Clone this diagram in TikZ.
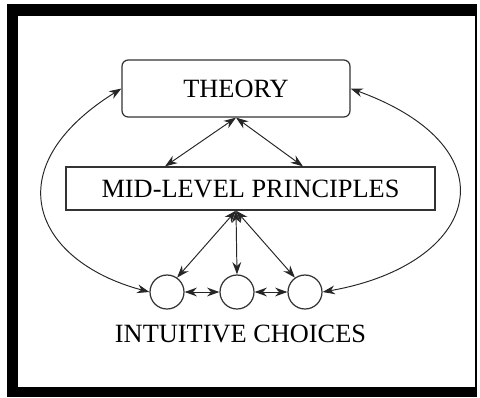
\documentclass[tikz,border=0pt]{standalone}
\usepackage{fontspec}
\setmainfont{Liberation Serif}
\usetikzlibrary{arrows.meta}

\begin{document}
\begin{tikzpicture}[x=0.02cm, y=0.02cm,
  every node/.style={font=\fontsize{15}{18}\selectfont},
  link/.style={draw=black!85, line width=0.55pt, {Stealth[length=7pt,width=5pt]}-{Stealth[length=7pt,width=5pt]}},
  choice/.style={circle, draw=black!80, line width=0.7pt, minimum size=0.68cm, inner sep=0pt}]
\useasboundingbox (0,0) rectangle (480,-397);
% frame
\fill[black] (7,-4) rectangle (18,-397);
\fill[black] (7,-4) rectangle (477,-16);
\fill[black] (7,-387) rectangle (477,-397);
\fill[black] (474.5,-4) rectangle (477,-397);
% boxes
\node[draw=black!80, line width=0.7pt, rounded corners=3.5pt, minimum width=4.56cm, minimum height=1.14cm] (theory) at (236,-88.5) {THEORY};
\node[draw=black!80, line width=0.7pt, minimum width=7.38cm, minimum height=0.86cm] (mid) at (250.5,-188.5) {MID-LEVEL PRINCIPLES};
\node[choice] (c1) at (167,-292) {};
\node[choice] (c2) at (237,-292) {};
\node[choice] (c3) at (305,-292) {};
\node (label) at (240.5,-333.5) {INTUITIVE CHOICES};
% theory -- principles
\draw[link] (theory.south) -- ([xshift=-1.71cm]mid.north);
\draw[link] (theory.south) -- ([xshift=1.05cm]mid.north);
% principles -- choices
\coordinate (hub) at ([xshift=-0.29cm]mid.south);
\draw[link] (hub) -- (c1.55);
\draw[link] (hub) -- (c2.north);
\draw[link] (hub) -- (c3.125);
\draw[link] (c1.east) -- (c2.west);
\draw[link] (c2.east) -- (c3.west);
% outer loops
\draw[link] (theory.west) .. controls +(212:150) and +(165:120) .. (c1.west);
\draw[link] (theory.east) .. controls +(-20:175) and +(10:160) .. (c3.east);
\end{tikzpicture}
\end{document}
